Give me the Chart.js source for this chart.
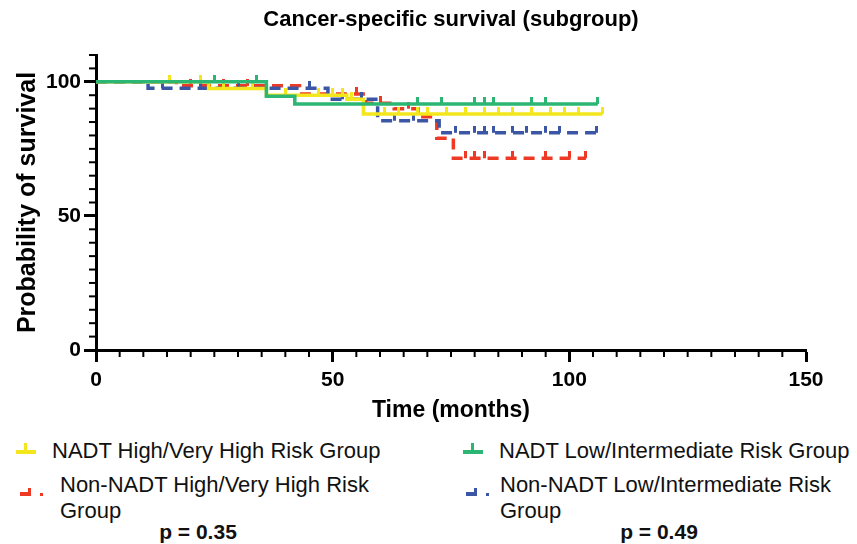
<!DOCTYPE html>
<html>
<head>
<meta charset="utf-8">
<script src="https://cdn.jsdelivr.net/npm/chart.js@4/dist/chart.umd.min.js"></script>
<style>
  body { margin: 0; background: #fff; font-family: "Liberation Sans", Arial, sans-serif; }
  #wrap { position: relative; width: 857px; height: 544px; }
  #c { position: absolute; left: 0; top: 0; }
  .txt { position: absolute; font-size: 22px; line-height: 26px; color: #111; white-space: nowrap; }
  .p { position: absolute; font-size: 21px; font-weight: bold; color: #111; transform: translateX(-50%); white-space: nowrap; }
  .bar { position: absolute; height: 4px; }
  .tk { position: absolute; width: 3px; height: 8px; }
</style>
</head>
<body>
<div id="wrap">
  <canvas id="c" width="857" height="430"></canvas>

  <div class="bar" style="left:16px;top:450px;width:20px;background:#F4E61C"></div>
  <div class="tk" style="left:24px;top:443px;background:#F4E61C"></div>
  <div class="txt" style="left:52px;top:438px">NADT High/Very High Risk Group</div>

  <div class="bar" style="left:463px;top:450px;width:20px;background:#2BB673"></div>
  <div class="tk" style="left:471px;top:443px;background:#2BB673"></div>
  <div class="txt" style="left:499px;top:438px">NADT Low/Intermediate Risk Group</div>

  <div class="bar" style="left:20px;top:492px;width:11px;background:#EE3A24"></div>
  <div class="tk" style="left:28px;top:488px;height:6px;background:#EE3A24"></div>
  <div class="bar" style="left:40px;top:493px;width:3px;height:3px;background:#EE3A24"></div>
  <div class="txt" style="left:60px;top:472px">Non-NADT High/Very High Risk<br>Group</div>

  <div class="bar" style="left:466px;top:492px;width:11px;background:#3A56A5"></div>
  <div class="tk" style="left:474px;top:488px;height:6px;background:#3A56A5"></div>
  <div class="bar" style="left:486px;top:493px;width:3px;height:3px;background:#3A56A5"></div>
  <div class="txt" style="left:500px;top:472px">Non-NADT Low/Intermediate Risk<br>Group</div>

  <div class="p" style="left:198px;top:520px">p = 0.35</div>
  <div class="p" style="left:659px;top:520px">p = 0.49</div>
</div>
<script>
// Kaplan-Meier curves (time in months, survival in %)
const seriesNames = [
  "NADT High/Very High Risk Group",
  "NADT Low/Intermediate Risk Group",
  "Non-NADT High/Very High Risk Group",
  "Non-NADT Low/Intermediate Risk Group"
];
const colors = ["#F4E61C", "#2BB673", "#EE3A24", "#3A56A5"];

// event times and survival after each event
const yellowEvT = [23.8, 36, 53, 56.5];
const yellowEvS = [97.5, 95, 93.5, 88];
const yellowCens = [15.5, 22, 27, 33, 40, 47, 50, 52, 54, 61, 64, 68, 70, 74, 78, 82, 85, 88, 92, 96, 99, 102, 107];

const greenEvT = [36, 42];
const greenEvS = [94.6, 91.7];
const greenCens = [25, 34, 68, 73, 80, 82, 84, 92, 95, 106];

const redEvT = [17, 43, 57, 63, 68, 72, 75.5];
const redEvS = [98.5, 95.5, 92, 90, 87, 79, 71.5];
const redCens = [20, 27, 32, 55, 60, 66, 78, 80, 82, 88, 95, 100, 103.5];

const blueEvT = [11, 49, 59.5, 72.5];
const blueEvS = [97.6, 93.5, 85.5, 81];
const blueCens = [14, 22, 30, 45, 52, 56, 63, 67, 76, 80, 82, 84, 88, 91, 95, 98, 105.8];

const xTicks = [0, 50, 100, 150];
const yTicks = [0, 50, 100];

function kmPoints(evT, evS, cens) {
  const pts = [{ x: 0, y: 100, c: false }];
  evT.forEach((t, i) => pts.push({ x: t, y: evS[i], c: false }));
  cens.forEach(t => {
    let s = 100;
    evT.forEach((et, i) => { if (et <= t) s = evS[i]; });
    pts.push({ x: t, y: s, c: true });
  });
  return pts.sort((a, b) => a.x - b.x);
}

function tickImg(color) {
  const cv = document.createElement("canvas");
  cv.width = 3; cv.height = 14;
  const g = cv.getContext("2d");
  g.fillStyle = color;
  g.fillRect(0, 0, 3, 7);
  return cv;
}

function makeSet(i, pts, dashed, order) {
  return {
    label: seriesNames[i],
    data: pts,
    borderColor: colors[i],
    backgroundColor: colors[i],
    borderWidth: 3.5,
    borderDash: dashed ? [11, 7] : [],
    stepped: "before",
    fill: false,
    order: order,
    pointStyle: tickImg(colors[i]),
    pointRadius: ctx => (ctx.raw && ctx.raw.c ? 4 : 0),
    pointHoverRadius: 0
  };
}

const minorTicks = {
  id: "minorTicks",
  afterDraw(chart) {
    const { ctx, chartArea, scales: { x, y } } = chart;
    ctx.save();
    ctx.strokeStyle = "#000";
    ctx.lineWidth = 2;
    for (let v = 5; v < 150; v += 5) {
      if (v % 50 === 0) continue;
      const px = x.getPixelForValue(v);
      ctx.beginPath(); ctx.moveTo(px, chartArea.bottom); ctx.lineTo(px, chartArea.bottom + 7); ctx.stroke();
    }
    for (let v = 5; v <= 110; v += 5) {
      if (v % 50 === 0) continue;
      const py = y.getPixelForValue(v);
      ctx.beginPath(); ctx.moveTo(chartArea.left, py); ctx.lineTo(chartArea.left - 7, py); ctx.stroke();
    }
    ctx.restore();
  }
};

const font = "'Liberation Sans', Arial, sans-serif";

new Chart(document.getElementById("c"), {
  type: "line",
  data: {
    datasets: [
      makeSet(0, kmPoints(yellowEvT, yellowEvS, yellowCens), false, 2),
      makeSet(1, kmPoints(greenEvT, greenEvS, greenCens), false, 1),
      makeSet(2, kmPoints(redEvT, redEvS, redCens), true, 4),
      makeSet(3, kmPoints(blueEvT, blueEvS, blueCens), true, 3)
    ]
  },
  options: {
    responsive: false,
    animation: false,
    layout: { padding: { left: 0, right: 51, top: 0, bottom: 0 } },
    plugins: {
      legend: { display: false },
      tooltip: { enabled: false },
      title: {
        display: true,
        fullSize: false,
        text: "Cancer-specific survival (subgroup)",
        color: "#000",
        font: { family: font, size: 22, weight: "bold" },
        padding: { top: 7, bottom: 21.6 }
      }
    },
    scales: {
      x: {
        type: "linear",
        min: 0,
        max: 150,
        afterBuildTicks: s => { s.ticks = xTicks.map(v => ({ value: v })); },
        afterFit: s => { s.height = 80; },
        border: { display: true, width: 3, color: "#000" },
        grid: { drawOnChartArea: false, drawTicks: true, tickLength: 12, tickWidth: 3, tickColor: "#000" },
        ticks: { color: "#000", padding: 6, maxRotation: 0, font: { family: font, size: 21, weight: "bold" } },
        title: { display: true, text: "Time (months)", color: "#000", font: { family: font, size: 23, weight: "bold" }, padding: { top: 0, bottom: 6 } }
      },
      y: {
        min: 0,
        max: 110,
        afterBuildTicks: s => { s.ticks = yTicks.map(v => ({ value: v })); },
        afterFit: s => { s.width = 96; },
        border: { display: true, width: 3, color: "#000" },
        grid: { drawOnChartArea: false, drawTicks: true, tickLength: 12, tickWidth: 3, tickColor: "#000" },
        ticks: { color: "#000", padding: 3, font: { family: font, size: 21, weight: "bold" } },
        title: { display: true, text: "Probability of survival", color: "#000", font: { family: font, size: 25, weight: "bold" }, padding: { top: 13, bottom: 0 } }
      }
    }
  },
  plugins: [minorTicks]
});
</script>
</body>
</html>
